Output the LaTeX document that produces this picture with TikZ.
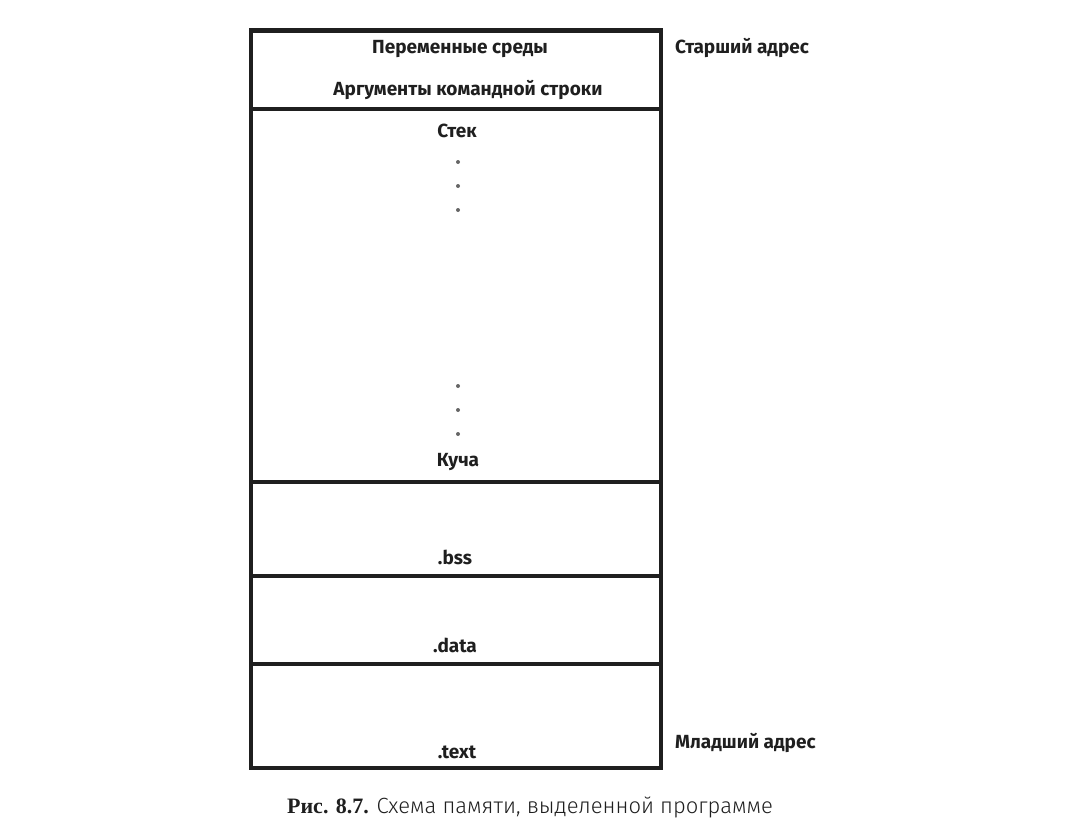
\documentclass[tikz,border=0pt]{standalone}
\usepackage{fontspec}
\setmainfont{Fira Sans}
\newfontfamily\capserif{Liberation Serif}
\begin{document}
\begin{tikzpicture}[x=1pt,y=-1pt,
  lbl/.style={font=\fontsize{19}{21}\selectfont\bfseries, text=black!88, inner sep=0pt},
  side/.style={lbl, anchor=west},
  frame/.style={draw=black!88, line width=4.5pt},
  dotm/.style={circle, fill=black!60, inner sep=0pt, minimum size=4pt}]
\useasboundingbox (0,0) rectangle (1087,835);
% memory regions
\draw[frame] (251,30.5) rectangle (661,768);
\draw[frame] (251,109) -- (661,109);
\draw[frame] (251,482) -- (661,482);
\draw[frame] (251,576) -- (661,576);
\draw[frame] (251,664) -- (661,664);
% labels
\node[lbl] (env) at (460,49) {Переменные среды};
\node[lbl] (args) at (468,90) {Аргументы командной строки};
\node[lbl] (stack) at (457,131) {Стек};
\node[lbl] (heap) at (458,462) {Куча};
\node[lbl] (bss) at (455,557) {.bss};
\node[lbl] (data) at (455,645) {.data};
\node[lbl] (text) at (457,752) {.text};
\node[side] (high) at (675,48) {Старший адрес};
\node[side] (low) at (675,743) {Младший адрес};
% dots
\foreach \y [count=\i] in {162,186,210} \node[dotm] (d\i) at (458,\y) {};
\foreach \y [count=\i] in {386,410,434} \node[dotm] (e\i) at (458,\y) {};
% caption
\node[inner sep=0pt, text=black!88] (cap) at (530,807) {\fontsize{22}{25}\selectfont{\capserif\bfseries Рис. 8.7.} {\fontspec{Fira Sans Light}Схема памяти, выделенной программе}};
\end{tikzpicture}
\end{document}
